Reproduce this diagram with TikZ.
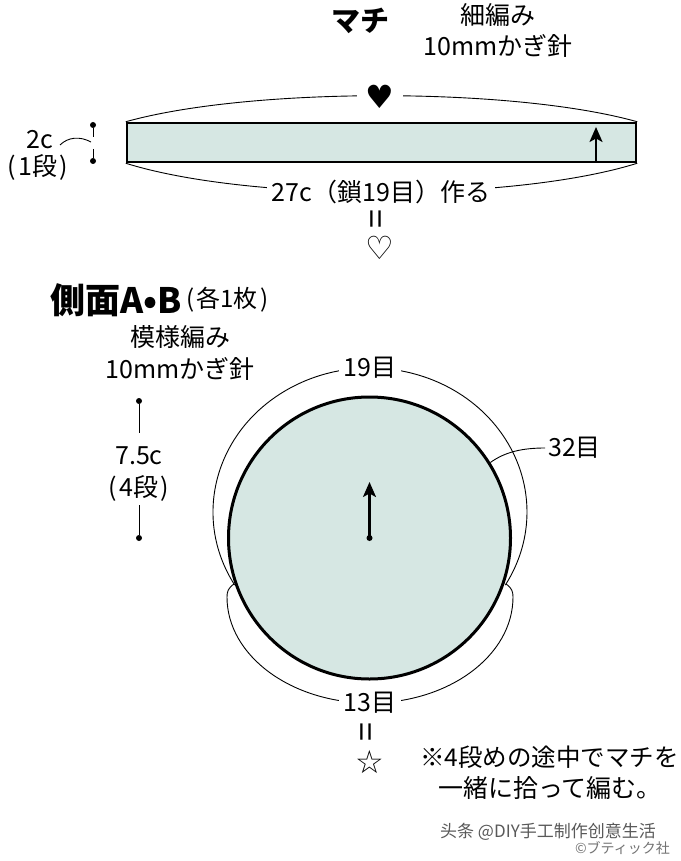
\documentclass[tikz,border=0pt]{standalone}
\usepackage{fontspec}
\setmainfont{Noto Sans CJK JP}
\newfontfamily\zhfont{Noto Sans CJK SC}
\newfontfamily\symfont{DejaVu Sans}
\usetikzlibrary{arrows.meta}
\definecolor{mint}{RGB}{214,231,227}
\newcommand{\lp}{(\kern2.5pt}
\newcommand{\rp}{\kern2.5pt)}
\tikzset{
  txt/.style={font=\fontsize{25}{27}\selectfont, inner sep=0pt},
  lab/.style={txt, fill=white, inner xsep=5pt, inner ysep=3pt},
  thinline/.style={line width=0.9pt},
  dimdot/.style={circle, fill=black, inner sep=0pt, minimum size=6pt},
  uparrow/.style={line width=2.2pt, -{Stealth[length=15pt,width=13pt,inset=3.5pt]}},
  eqsign/.style={font=\fontsize{34}{34}\selectfont, inner sep=0pt, rotate=90},
  sym/.style={font=\symfont\fontsize{32}{32}\selectfont, inner sep=0pt},
}
\begin{document}
\begin{tikzpicture}[x=1pt,y=-1pt]
\useasboundingbox[fill=white] (0,0) rectangle (680,861);

% ---- Machi
\node[font=\fontsize{29}{30}\selectfont\bfseries, inner sep=0pt] (machi) at (360,21) {マチ};
\node[txt] (hoso) at (498,15) {細編み};
\node[txt] (hari1) at (498,46) {10mmかぎ針};

\node[draw, line width=2.5pt, fill=mint, minimum width=509pt, minimum height=39pt, inner sep=0pt] (r) at (381.5,142.5) {};
\draw[thinline] (r.north west) .. controls (250,87) and (513,87) .. (r.north east);
\node[sym, fill=white, inner xsep=9pt, inner ysep=2pt] (heart) at (380,97) {♥};
\draw[thinline] (r.south west) .. controls (250,202) and (513,202) .. (r.south east);
\node[lab] (len) at (381,192) {27c（鎖19目）作る};
\node[eqsign] (eq1) at (380,219) {=};
\node[sym] (hw) at (380,248) {♡};

\coordinate (ra0) at (596,161);
\coordinate (ra1) at (596,127);
\draw[uparrow] (ra0) -- (ra1);

\node[dimdot] (d1) at (93,125) {};
\node[dimdot] (d2) at (93,161) {};
\coordinate (g1) at (93,137);
\coordinate (g2) at (93,149);
\draw[thinline] (d1) -- (g1);
\draw[thinline] (g2) -- (d2);
\node[txt] (twoc) at (40,140) {2c};
\node[txt] (dan1) at (38,167) {\lp 1段\rp};
\coordinate (l1) at (60,145);
\coordinate (l2) at (91,142);
\draw[thinline] (l1) .. controls (68,137) and (80,136) .. (l2);

% ---- Side A/B
\node[font=\fontsize{35}{36}\selectfont\bfseries, inner sep=0pt, anchor=west] (sok) at (50,300) {側面A•B};
\node[font=\fontsize{24}{26}\selectfont, inner sep=0pt, anchor=west] (kaku) at ([xshift=4pt]sok.east) {\lp 各1枚\rp};
\node[txt] (moyo) at (180,337) {模様編み};
\node[txt] (hari2) at (180,369) {10mmかぎ針};

\node[dimdot] (e1) at (139,401) {};
\node[dimdot] (e2) at (139,538) {};
\coordinate (h1) at (139,433);
\coordinate (h2) at (139,505);
\draw[thinline] (e1) -- (h1);
\draw[thinline] (h2) -- (e2);
\node[txt] (sevenc) at (139,456) {7.5c};
\node[txt] (dan4) at (139,488) {\lp 4段\rp};

\node[circle, draw, line width=3pt, fill=mint, minimum size=282pt, inner sep=0pt] (c) at (369.5,538) {};
\node[dimdot] (cd) at (c.center) {};
\coordinate (ctip) at (369.5,482);
\draw[uparrow] (cd.center) -- (ctip);

% outer arcs
\draw[thinline] (370,512) ++(210.5:157pt and 144pt) arc[start angle=210.5, end angle=-30.5, x radius=157pt, y radius=144pt];
\coordinate (jl) at (234,584);
\coordinate (jr) at (506,584);
\draw[thinline] (jl) .. controls (228,588) and (227,592) .. (227,597)
   arc[start angle=180, end angle=360, x radius=143pt, y radius=106pt]
   .. controls (513,592) and (512,588) .. (jr);
\node[lab] (n19) at (370,368) {19目};
\node[lab] (n13) at (370,703) {13目};
\node[txt, anchor=west] (n32) at (548,448) {32目};
\draw[thinline] (c.32.5) .. controls (505,452) and (522,448) .. ([xshift=-3pt]n32.west);

\node[eqsign] (eq2) at (370,732) {=};
\node[sym] (star) at (370,762) {☆};

\node[font=\fontsize{24.5}{26}\selectfont, inner sep=0pt, anchor=east] (note1) at (679,757) {※4段めの途中でマチを};
\node[txt] (note2) at (550,788) {一緒に拾って編む。};

% watermark
\node[font=\zhfont\fontsize{17}{17}\selectfont, text=black!65, inner sep=0pt, anchor=west] (wm) at (440,832) {头条 @DIY手工制作创意生活};
\node[font=\fontsize{14}{14}\selectfont, text=black!55, inner sep=0pt, anchor=east] (cp) at (670,848) {©ブティック社};
\end{tikzpicture}
\end{document}
